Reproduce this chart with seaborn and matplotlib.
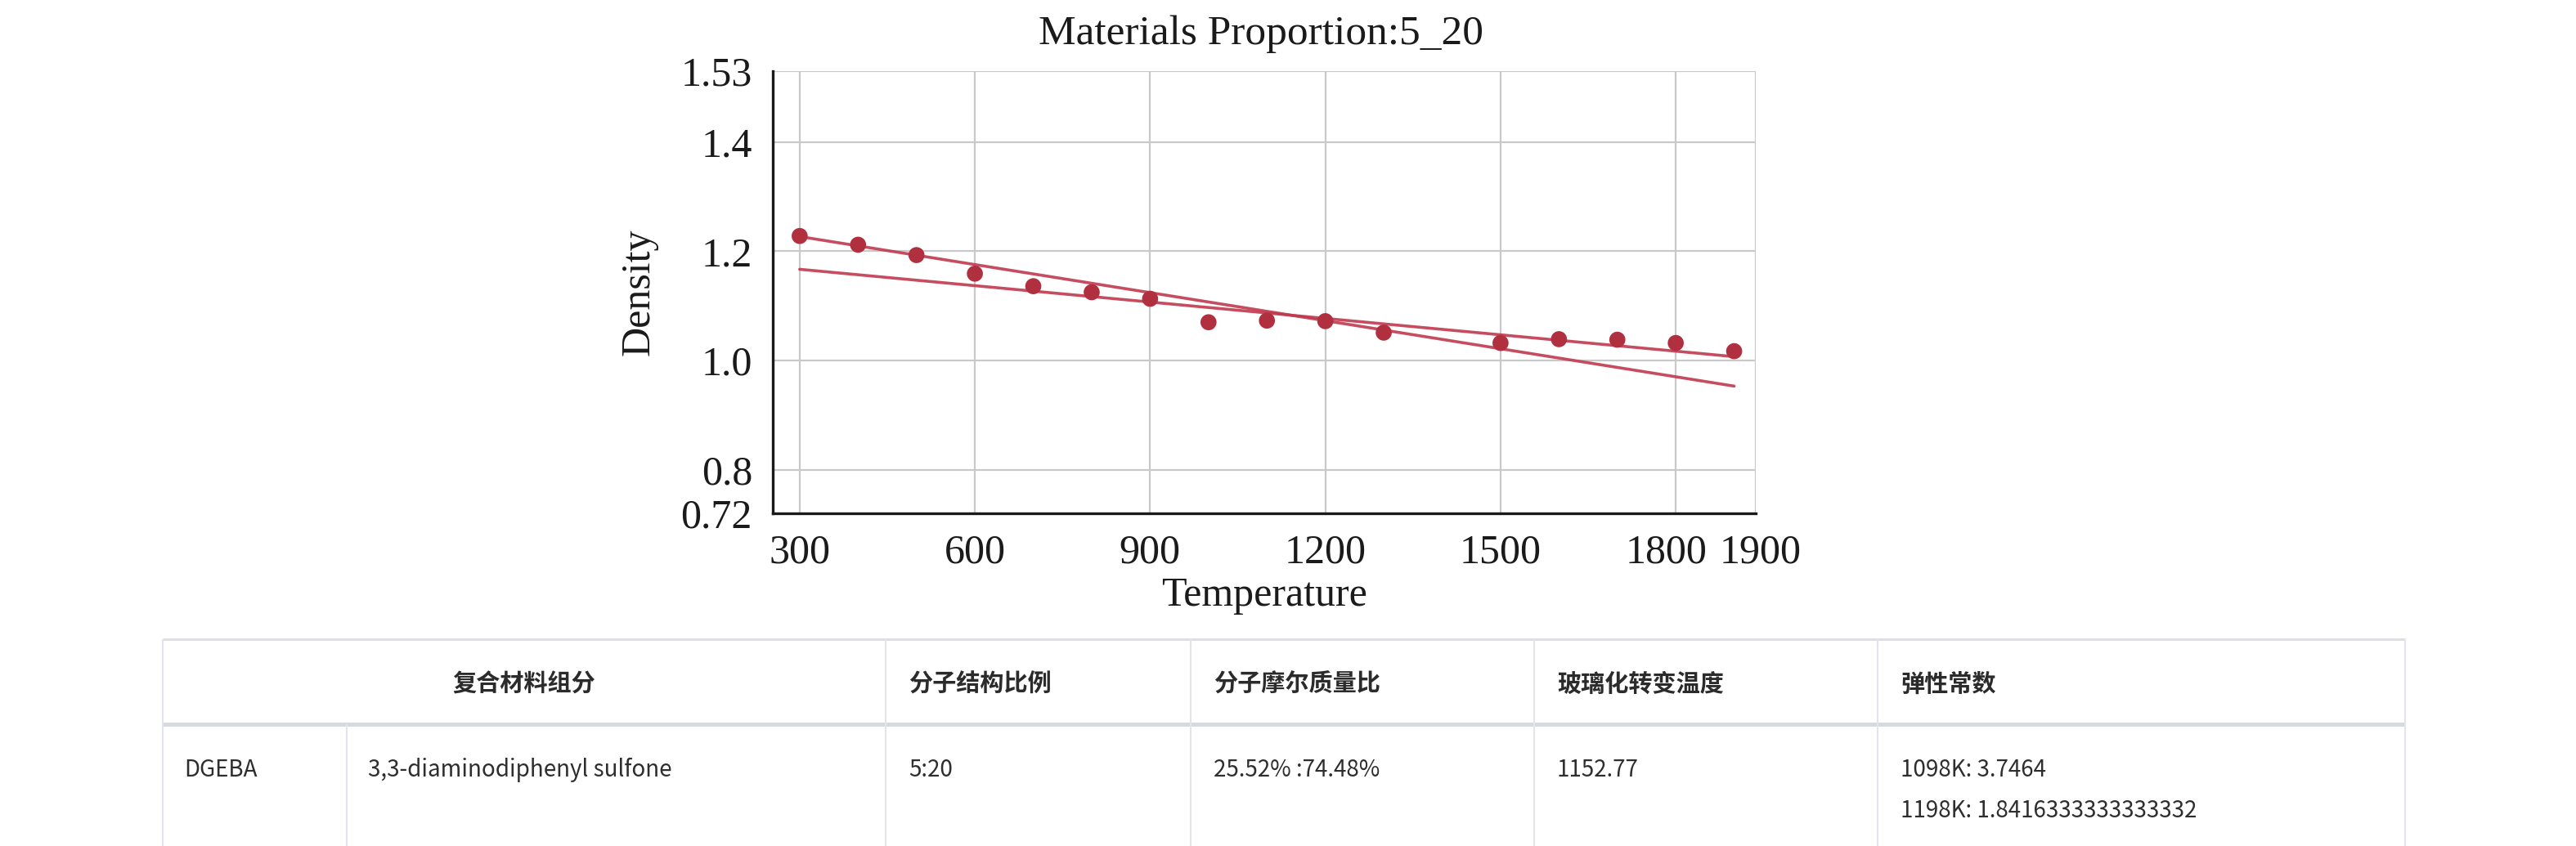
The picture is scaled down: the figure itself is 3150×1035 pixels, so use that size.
import matplotlib
matplotlib.use("Agg")
import matplotlib.pyplot as plt
import matplotlib.transforms as mtransforms
import seaborn as sns
import pandas as pd

# measured density points (temperature in K)
temperature = [300, 400, 500, 600, 700, 800, 900, 1000, 1100, 1200, 1300,
               1500, 1600, 1700, 1800, 1900]
density = [1.228, 1.212, 1.193, 1.159, 1.136, 1.125, 1.113, 1.070, 1.073,
           1.072, 1.051, 1.032, 1.039, 1.038, 1.032, 1.017]

# two fitted lines, read at both ends of the range
fit_temperature = [300, 1900]
fit_steep = [1.227, 0.953]
fit_shallow = [1.167, 1.007]

x_ticks = [300, 600, 900, 1200, 1500, 1800]
x_end_label = "1900"
y_ticks = [0.72, 0.8, 1.0, 1.2, 1.4, 1.53]
y_tick_labels = ["0.72", "0.8", "1.0", "1.2", "1.4", "1.53"]

title = "Materials Proportion:5_20"

# table below the chart
header = ["复合材料组分", "分子结构比例", "分子摩尔质量比", "玻璃化转变温度", "弹性常数"]
row_cells = ["DGEBA", "3,3-diaminodiphenyl sulfone", "5:20", "25.52% :74.48%", "1152.77"]
elastic_lines = ["1098K: 3.7464", "1198K: 1.8416333333333332"]

sns.set_theme(style="white")
plt.rcParams["font.family"] = ["Liberation Serif", "DejaVu Serif"]

W, H = 3150, 1035
fig = plt.figure(figsize=(W / 100, H / 100), dpi=100)

# ---- table (drawn in pixel coordinates on a full-figure axes)
tab = fig.add_axes([0, 0, 1, 1])
tab.set_xlim(0, W)
tab.set_ylim(H, 0)
tab.axis("off")

cols = [199, 424, 1083, 1456, 1876, 2296, 2941]
top, head_bot = 782, 886
line_col = "#e2e5ea"
tab.hlines(top, cols[0], cols[-1], color="#dcdfe4", lw=2.2)
tab.hlines(head_bot, cols[0], cols[-1], color="#d6d9de", lw=3.6)
for c in cols:
    if c == cols[1]:
        tab.vlines(c, head_bot, H, color=line_col, lw=1.5)
    else:
        tab.vlines(c, top, H, color=line_col, lw=1.5)

cjk = ["Noto Sans CJK SC", "DejaVu Sans"]
head_y = 837
tab.text((cols[0] + cols[2]) / 2, head_y, header[0], ha="center", va="center",
         fontsize=21, fontweight="bold", color="#2b2b2b", family=cjk)
for i, h in enumerate(header[1:]):
    tab.text(cols[i + 2] + 28, head_y, h, ha="left", va="center",
             fontsize=21, fontweight="bold", color="#2b2b2b", family=cjk)

body_y = 942
body_x = [cols[0] + 26, cols[1] + 26, cols[2] + 28, cols[3] + 28, cols[4] + 28]
for x, txt in zip(body_x, row_cells):
    tab.text(x, body_y, txt, ha="left", va="center", fontsize=20,
             color="#2e2e2e", family=cjk)
for k, txt in enumerate(elastic_lines):
    tab.text(cols[5] + 28, body_y + 50 * k, txt, ha="left", va="center",
             fontsize=20, color="#2e2e2e", family=cjk)

# ---- chart
ax = fig.add_axes([945 / W, 1 - 628 / H, (2147 - 945) / W, (628 - 87) / H])
ax.set_facecolor("none")

x_right = 1937
df = pd.DataFrame({"Temperature": temperature, "Density": density})
fits = pd.DataFrame({
    "Temperature": fit_temperature * 2,
    "Density": fit_steep + fit_shallow,
    "fit": ["steep"] * 2 + ["shallow"] * 2,
})

sns.lineplot(data=fits, x="Temperature", y="Density", units="fit", estimator=None,
             color="#c03a4e", lw=2.6, alpha=0.9, ax=ax, zorder=3)
sns.scatterplot(data=df, x="Temperature", y="Density", s=200, color="#b1303f",
                edgecolor="none", ax=ax, zorder=4)

ax.set_xlim(254, x_right)
ax.set_ylim(0.72, 1.53)
ax.set_xticks(x_ticks + [x_right])
ax.set_xticklabels([str(t) for t in x_ticks] + [x_end_label])
ax.set_yticks(y_ticks)
ax.set_yticklabels(y_tick_labels)

ax.grid(True, color="#c9c9c9", lw=1.6)
ax.set_axisbelow(True)
for s in ["top", "right"]:
    ax.spines[s].set_visible(False)
for s in ["left", "bottom"]:
    ax.spines[s].set_color("#1a1a1a")
    ax.spines[s].set_linewidth(2.4)

ax.tick_params(axis="both", direction="in", length=9, width=2.4, color="#1a1a1a",
               labelsize=36, labelcolor="#1a1a1a")
ax.tick_params(axis="x", pad=18)
ax.tick_params(axis="y", pad=18)

# the last two x labels sit apart in the reference
xlabels = ax.get_xticklabels()
xlabels[-2].set_transform(xlabels[-2].get_transform()
                          + mtransforms.ScaledTranslation(-0.12, 0, fig.dpi_scale_trans))
xlabels[-1].set_transform(xlabels[-1].get_transform()
                          + mtransforms.ScaledTranslation(0.06, 0, fig.dpi_scale_trans))

ax.set_xlabel("Temperature", fontsize=36, color="#1a1a1a", labelpad=4)
ax.set_ylabel("Density", fontsize=36, color="#1a1a1a", labelpad=20)

fig.text(1542 / W, 1 - 42 / H, title, ha="center", va="center", fontsize=37,
         color="#1a1a1a")

fig.savefig("out.png", dpi=100)
